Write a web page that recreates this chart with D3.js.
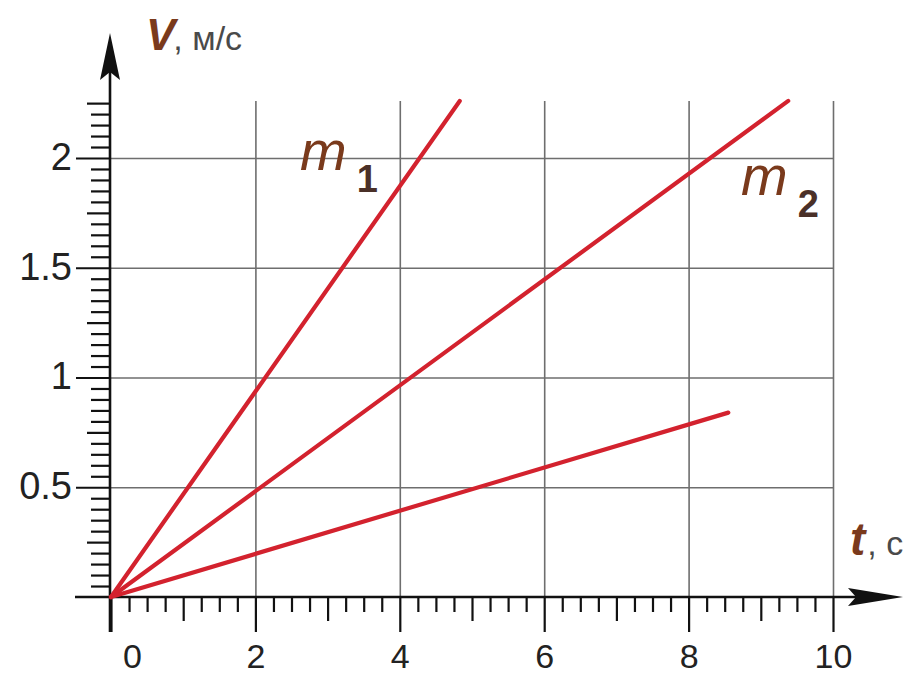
<!DOCTYPE html>
<html>
<head>
<meta charset="utf-8">
<script src="https://cdn.jsdelivr.net/npm/d3@7"></script>
<style>
  html, body { margin: 0; padding: 0; background: #ffffff; }
  svg { display: block; }
</style>
</head>
<body>
<svg id="chart" width="912" height="677"></svg>
<script>
// ---- data ----
const xMajorTicks = [0, 2, 4, 6, 8, 10];
const xTickLabels = ["0", "2", "4", "6", "8", "10"];
const yMajorTicks = [0.5, 1, 1.5, 2];
const yTickLabels = ["0.5", "1", "1.5", "2"];
const seriesNames = ["m1", "m2", ""];
const tM1 = [0, 4.83];
const vM1 = [0, 2.26];
const tM2 = [0, 9.38];
const vM2 = [0, 2.26];
const tM3 = [0, 8.55];
const vM3 = [0, 0.84];

// ---- layout ----
const svg = d3.select("#chart");
const x = d3.scaleLinear().domain([0, 10]).range([111, 833]);
const y = d3.scaleLinear().domain([0, 2]).range([597, 158]);
const gridTop = 101;
const axisColor = "#111";
const gridColor = "#6e6e6e";
const lineColor = "#d3222e";
const labelBrown = "#7a3a1c";
const unitGray = "#4a4a4a";
const font = "'Liberation Sans', Arial, sans-serif";

// grid
const gx = svg.append("g").attr("transform", `translate(0,${y(0)})`)
  .call(d3.axisBottom(x).tickValues(xMajorTicks.filter(d => d > 0))
    .tickSize(-(y(0) - gridTop)).tickFormat(""));
gx.select(".domain").remove();
gx.selectAll("line").attr("stroke", gridColor).attr("stroke-width", 1.6);

const gy = svg.append("g").attr("transform", `translate(${x(0) - 1},0)`)
  .call(d3.axisLeft(y).tickValues(yMajorTicks)
    .tickSize(-(x(10) - x(0) + 1)).tickFormat(""));
gy.select(".domain").remove();
gy.selectAll("line").attr("stroke", gridColor).attr("stroke-width", 1.6);

// minor ticks x
const xMinor = d3.range(1, 40).map(i => i * 0.25).filter(d => d % 1 !== 0);
const xMid = [1, 3, 5, 7, 9];
function styleTicks(g) {
  g.select(".domain").remove();
  g.selectAll("line").attr("stroke", axisColor).attr("stroke-width", 2.2);
}
svg.append("g").attr("transform", `translate(0,${y(0)})`)
  .call(d3.axisBottom(x).tickValues(xMinor).tickSize(15).tickFormat(""))
  .call(styleTicks);
svg.append("g").attr("transform", `translate(0,${y(0)})`)
  .call(d3.axisBottom(x).tickValues(xMid).tickSize(24).tickFormat(""))
  .call(styleTicks);
const xMaj = svg.append("g").attr("transform", `translate(0,${y(0)})`)
  .call(d3.axisBottom(x).tickValues(xMajorTicks).tickSize(35).tickPadding(12)
    .tickFormat((d, i) => xTickLabels[i]));
xMaj.call(styleTicks);
xMaj.selectAll("text")
  .attr("font-family", font).attr("font-size", 34).attr("fill", "#222")
  .attr("transform", d => d === 0 ? "translate(21,0)" : null);

// minor ticks y
const yMinor = d3.range(1, 46).map(i => +(i * 0.05).toFixed(2))
  .filter(d => Math.abs(d * 4 - Math.round(d * 4)) > 1e-6);
const yMid = [0.25, 0.75, 1.25, 1.75, 2.25];
const yAxisX = x(0) - 1;
svg.append("g").attr("transform", `translate(${yAxisX},0)`)
  .call(d3.axisLeft(y).tickValues(yMinor).tickSize(19).tickFormat(""))
  .call(styleTicks);
svg.append("g").attr("transform", `translate(${yAxisX},0)`)
  .call(d3.axisLeft(y).tickValues(yMid).tickSize(23).tickFormat(""))
  .call(styleTicks);
const yMaj = svg.append("g").attr("transform", `translate(${yAxisX},0)`)
  .call(d3.axisLeft(y).tickValues(yMajorTicks).tickSize(34).tickPadding(4)
    .tickFormat((d, i) => yTickLabels[i]));
yMaj.call(styleTicks);
yMaj.selectAll("text")
  .attr("font-family", font).attr("font-size", 38).attr("fill", "#222")
  .attr("dy", "0.3em");

// axis lines
svg.append("line").attr("x1", 75).attr("x2", 860).attr("y1", y(0)).attr("y2", y(0))
  .attr("stroke", axisColor).attr("stroke-width", 2.6);
svg.append("line").attr("x1", yAxisX).attr("x2", yAxisX).attr("y1", y(0) + 35).attr("y2", 60)
  .attr("stroke", axisColor).attr("stroke-width", 2.6);
// arrowheads
const ax0 = y(0);
svg.append("path")
  .attr("d", `M903,${ax0} L848,${ax0 - 9} L856,${ax0} L848,${ax0 + 9} Z`)
  .attr("fill", axisColor);
svg.append("path")
  .attr("d", `M${yAxisX},33 L${yAxisX - 10},80 L${yAxisX},72 L${yAxisX + 10},80 Z`)
  .attr("fill", axisColor);

// data lines
const series = [
  { name: seriesNames[0], t: tM1, v: vM1 },
  { name: seriesNames[1], t: tM2, v: vM2 },
  { name: seriesNames[2], t: tM3, v: vM3 }
];
const line = d3.line().x(d => x(d[0])).y(d => y(d[1]));
svg.append("g").selectAll("path").data(series).join("path")
  .attr("d", s => line(s.t.map((t, i) => [t, s.v[i]])))
  .attr("fill", "none").attr("stroke", lineColor).attr("stroke-width", 4.2)
  .attr("stroke-linecap", "round");

// series labels
function seriesLabel(px, py, sub) {
  const tx = svg.append("text").attr("x", px).attr("y", py)
    .attr("font-family", font);
  tx.append("tspan").text("m").attr("font-style", "italic")
    .attr("font-size", 56).attr("fill", labelBrown);
  tx.append("tspan").text(sub).attr("dx", 10).attr("dy", 22)
    .attr("font-size", 38).attr("font-weight", "bold").attr("fill", "#4a3028");
}
seriesLabel(300, 170, "1");
seriesLabel(741, 195, "2");

// axis titles
const vt = svg.append("text").attr("x", 146).attr("y", 50).attr("font-family", font);
vt.append("tspan").text("V").attr("font-style", "italic").attr("font-weight", "bold")
  .attr("font-size", 44).attr("fill", labelBrown);
vt.append("tspan").text(", м/с").attr("font-size", 34).attr("fill", unitGray).attr("dx", -2);

const tt = svg.append("text").attr("x", 850).attr("y", 555).attr("font-family", font);
tt.append("tspan").text("t").attr("font-style", "italic").attr("font-weight", "bold")
  .attr("font-size", 46).attr("fill", labelBrown);
tt.append("tspan").text(", с").attr("font-size", 34).attr("fill", unitGray).attr("dx", 2);
</script>
</body>
</html>
